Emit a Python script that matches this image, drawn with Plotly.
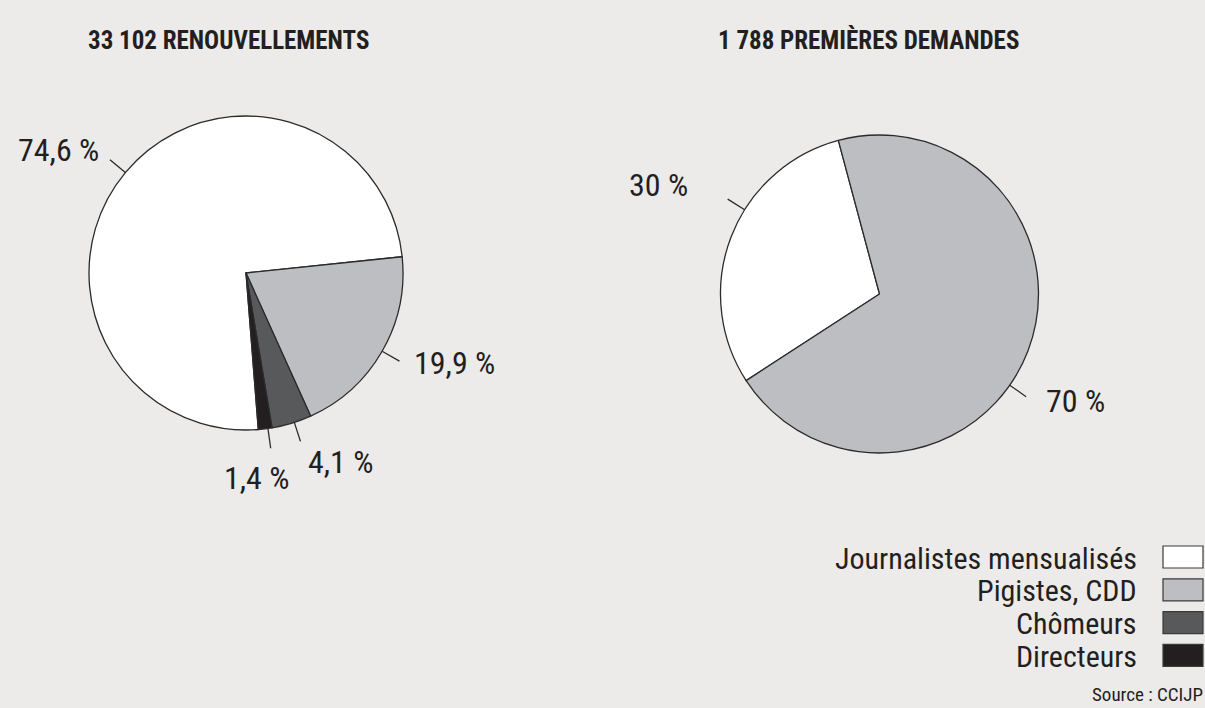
import math
import plotly.graph_objects as go

W, H = 1205, 708

# --- data -------------------------------------------------------------
categories = ["Journalistes mensualisés", "Pigistes, CDD", "Chômeurs", "Directeurs"]
slice_colors = ["#ffffff", "#bdbec1", "#58595b", "#231f20"]

renouvellements_title = "33 102 RENOUVELLEMENTS"
renouvellements_labels = categories
renouvellements_pct = [74.6, 19.9, 4.1, 1.4]

premieres_title = "1 788 PREMIÈRES DEMANDES"
premieres_labels = categories[:2]
premieres_pct = [30, 70]

source_text = "Source : CCIJP"

# --- styling ----------------------------------------------------------
BG = "#ecebe9"
INK = "#231f20"
FONT = "Liberation Sans Narrow, Roboto Condensed, Arial Narrow, Roboto, sans-serif"


def px(x):
    return x / W


def py(y):
    return 1 - y / H


def fmt_pct(v):
    if float(v).is_integer():
        return f"{int(v)} %"
    return f"{v:.1f}".replace(".", ",") + " %"


# pixel geometry of each pie and per-label placement
pies = [
    dict(title=renouvellements_title, labels=renouvellements_labels,
         values=renouvellements_pct, cx=246, cy=273, r=157, rotation=175.5,
         title_xy=(228, 40),
         # (angle nudge, dx, dy, xanchor) relative to leader end
         placements=[(0, -9, -10, "right"), (0, 13, 2, "left"),
                     (-1, 6, 21, "left"), (-1, -14, 30, "center")]),
    dict(title=premieres_title, labels=premieres_labels,
         values=premieres_pct, cx=879.5, cy=294, r=159, rotation=237,
         title_xy=(868, 40),
         placements=[(11, -38, -14, "right"), (14, 18, 4, "left")]),
]

fig = go.Figure()
shapes = []
annotations = []

for p in pies:
    cx, cy, r = p["cx"], p["cy"], p["r"]
    fig.add_trace(go.Pie(
        labels=p["labels"], values=p["values"], sort=False,
        direction="clockwise", rotation=p["rotation"],
        marker=dict(colors=slice_colors[:len(p["values"])],
                    line=dict(color="#2b2b2b", width=1.3)),
        textinfo="none", hoverinfo="label+percent", showlegend=False,
        domain=dict(x=[px(cx - r), px(cx + r)], y=[py(cy + r), py(cy - r)]),
    ))

    annotations.append(dict(
        x=px(p["title_xy"][0]), y=py(p["title_xy"][1]), xref="paper", yref="paper",
        text=p["title"], showarrow=False, xanchor="center", yanchor="middle",
        font=dict(family=FONT, size=25, color=INK, weight="bold"),
    ))

    total = sum(p["values"])
    start = p["rotation"]
    for v, (nudge, dx, dy, xa) in zip(p["values"], p["placements"]):
        span = 360 * v / total
        ang = math.radians(start + span / 2 + nudge)
        start += span
        sx, sy = math.sin(ang), -math.cos(ang)
        x0, y0 = cx + r * sx, cy + r * sy
        x1, y1 = cx + (r + 20) * sx, cy + (r + 20) * sy
        shapes.append(dict(type="line", xref="paper", yref="paper",
                           x0=px(x0), y0=py(y0), x1=px(x1), y1=py(y1),
                           line=dict(color="#2b2b2b", width=1.3)))
        annotations.append(dict(
            x=px(x1 + dx), y=py(y1 + dy), xref="paper", yref="paper",
            text=fmt_pct(v), showarrow=False, xanchor=xa, yanchor="middle",
            font=dict(family=FONT, size=32, color=INK),
        ))

# legend: label on the left, swatch on the right
row_y0, row_step = 557, 32.8
for i, (name, col) in enumerate(zip(categories, slice_colors)):
    yc = row_y0 + i * row_step
    annotations.append(dict(
        x=px(1139), y=py(yc + 1), xref="paper", yref="paper", text=name,
        showarrow=False, xanchor="right", yanchor="middle",
        font=dict(family=FONT, size=30, color=INK),
    ))
    shapes.append(dict(type="rect", xref="paper", yref="paper",
                       x0=px(1163), x1=px(1203), y0=py(yc - 11), y1=py(yc + 11),
                       fillcolor=col, line=dict(color="#3a3a3a", width=1.2)))

annotations.append(dict(
    x=px(1205), y=py(708), xref="paper", yref="paper", text=source_text,
    showarrow=False, xanchor="right", yanchor="bottom",
    font=dict(family=FONT, size=19, color=INK),
))

fig.update_layout(
    width=W, height=H, margin=dict(l=0, r=0, t=0, b=0),
    paper_bgcolor=BG, plot_bgcolor=BG,
    shapes=shapes, annotations=annotations,
)

fig.write_html("out.html")
